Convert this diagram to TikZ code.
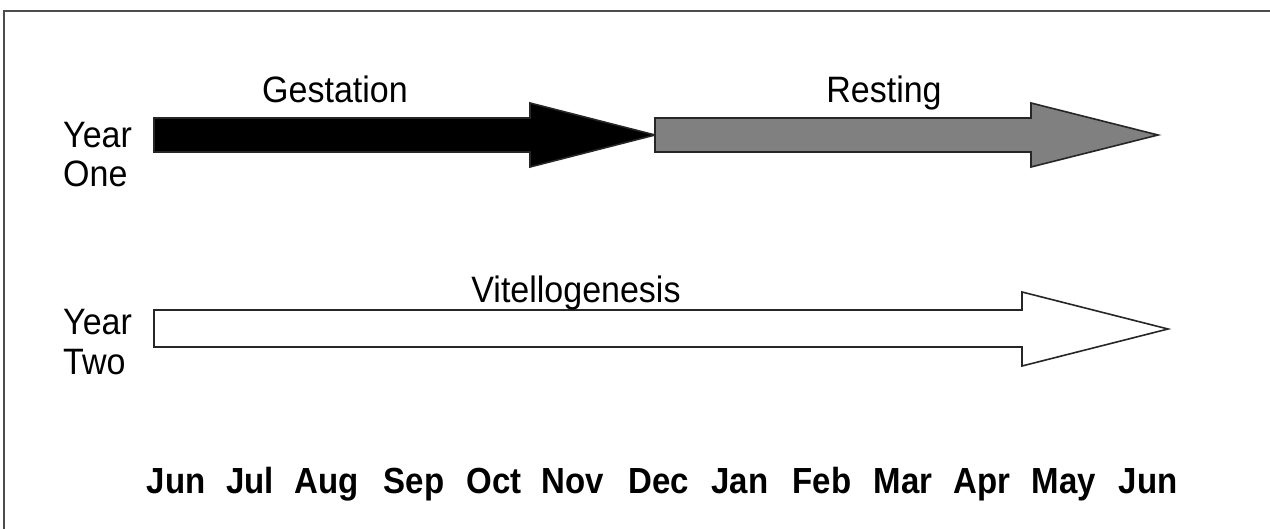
\documentclass[tikz,border=0pt]{standalone}
\usepackage{fontspec}
\setmainfont{Liberation Sans}
\tikzset{
  blockarrow/.style={draw=black!85, line width=1.6pt, line join=miter},
  phase/.style={font=\fontsize{34}{40}\selectfont, anchor=base, inner sep=0pt, yscale=1.08},
  yearlabel/.style={font=\fontsize{34}{40}\selectfont, anchor=base west, inner sep=0pt, yscale=1.08},
  month/.style={font=\fontsize{33}{40}\selectfont\bfseries, anchor=base, inner sep=0pt, yscale=1.1}
}
\begin{document}
\begin{tikzpicture}[x=1pt, y=-1pt]
\useasboundingbox (0,0) rectangle (1270,529);
\fill[white] (0,0) rectangle (1270,529);
\draw[black!70, line width=2pt] (4,529) -- (4,11) -- (1270,11);
% year one
\filldraw[blockarrow, fill=black] (154,118) -- (530,118) -- (530,103) -- (655,135) -- (530,167) -- (530,152) -- (154,152) -- cycle;
\filldraw[blockarrow, fill=black!50] (655,118) -- (1031,118) -- (1031,103) -- (1158,135) -- (1031,167) -- (1031,152) -- (655,152) -- cycle;
% year two
\filldraw[blockarrow, fill=white] (154,310) -- (1022,310) -- (1022,292) -- (1168,329) -- (1022,366) -- (1022,347) -- (154,347) -- cycle;
\node[phase] (gest) at (335,103) {Gestation};
\node[phase] (rest) at (884,103) {Resting};
\node[phase] (vitel) at (576,303) {Vitellogenesis};
\node[yearlabel] (yone) at (63,148) {Year};
\node[yearlabel] (yonesub) at (63,187) {One};
\node[yearlabel] (ytwo) at (63,335) {Year};
\node[yearlabel] (ytwosub) at (63,375) {Two};
% months
\foreach \x/\m [count=\i] in {176/Jun, 250/Jul, 327/Aug, 414/Sep, 494/Oct, 573/Nov, 659/Dec, 740/Jan, 822/Feb, 903/Mar, 982/Apr, 1064/May, 1148/Jun}
  \node[month] (m\i) at (\x,493) {\m};
\end{tikzpicture}
\end{document}
